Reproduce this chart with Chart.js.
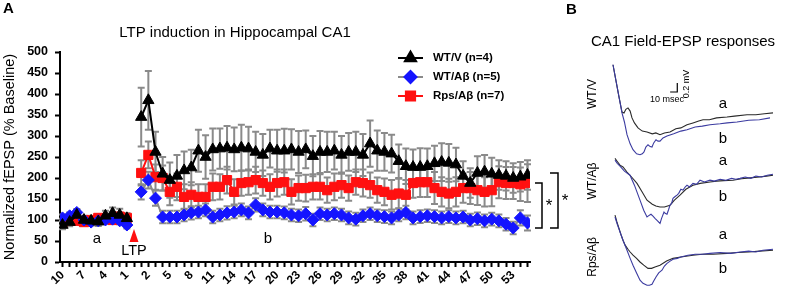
<!DOCTYPE html>
<html lang="en">
<head>
<meta charset="UTF-8">
<title>LTP induction in Hippocampal CA1</title>
<script src="https://cdn.jsdelivr.net/npm/chart.js"></script>
<style>
    body { margin: 0; width: 787px; height: 292px; background: #fff; position: relative; overflow: hidden; }
    #ltpChart { position: absolute; left: 0; top: 0; }
    #traceChart { position: absolute; left: 600px; top: 55px; }
</style>
</head>
<body>
<canvas id="ltpChart" width="787" height="292"></canvas>
<canvas id="traceChart" width="187" height="237"></canvas>

<script>
// time axis: 10 min baseline, LTP slot, 55 min after induction
const timeLabels = ['10','9','8','7','6','5','4','3','2','1','',
    '1','2','3','4','5','6','7','8','9','10','11','12','13','14','15','16','17','18','19','20',
    '21','22','23','24','25','26','27','28','29','30','31','32','33','34','35','36','37','38','39','40',
    '41','42','43','44','45','46','47','48','49','50','51','52','53','54','55'];

const seriesNames = ['WT/V (n=4)', 'WT/Aβ (n=5)', 'Rps/Aβ (n=7)'];

// % baseline
const wtV = [88, 95, 112, 100, 98, 96, 110, 116, 112, 104, null,
    345, 385, 262, 210, 195, 205, 218, 225, 265, 250,
    268, 270, 272, 268, 272, 270, 262, 255, 270, 265,
    265, 268, 262, 268, 252, 262, 262, 265, 255, 262,
    262, 255, 282, 265, 262, 258, 240, 228, 226, 226,
    228, 235, 238, 236, 232, 205, 188, 212, 215, 210,
    207, 205, 200, 203, 207];
const wtVErr = [10, 10, 12, 10, 10, 10, 12, 14, 15, 12, null,
    70, 70, 48, 40, 42, 50, 45, 42, 50, 52,
    50, 48, 52, 52, 55, 52, 48, 50, 45, 50,
    52, 48, 50, 45, 48, 50, 48, 45, 45, 45,
    48, 50, 55, 48, 45, 45, 40, 42, 42, 45,
    42, 42, 45, 45, 40, 35, 35, 40, 40, 38,
    35, 35, 35, 35, 35];

const wtAb = [105, 110, 118, 100, 95, 98, 100, 102, 98, 88, null,
    167, 195, 152, 107, 107, 107, 112, 117, 119, 124,
    107, 112, 117, 119, 124, 117, 136, 124, 119, 119,
    117, 112, 110, 115, 100, 115, 112, 115, 112, 105,
    102, 110, 115, 110, 108, 105, 112, 118, 105, 108,
    110, 108, 105, 108, 105, 107, 100, 103, 98, 102,
    98, 90, 81, 105, 93];
const wtAbErr = [8, 8, 8, 8, 8, 8, 8, 8, 8, 8, null,
    18, 20, 18, 15, 15, 15, 15, 16, 15, 15,
    15, 15, 16, 15, 15, 15, 16, 15, 15, 15,
    15, 15, 15, 16, 15, 15, 15, 15, 15, 15,
    15, 15, 15, 15, 15, 15, 15, 16, 15, 15,
    15, 15, 15, 15, 15, 15, 15, 15, 15, 15,
    15, 15, 15, 18, 18];

const rpsAb = [95, 100, 98, 95, 100, 105, 102, 100, 108, 105, null,
    212, 255, 202, 200, 167, 179, 155, 160, 155, 155,
    179, 179, 195, 167, 188, 190, 195, 188, 179, 188,
    190, 167, 176, 176, 179, 179, 171, 179, 183, 176,
    190, 188, 183, 171, 167, 160, 163, 160, 188, 190,
    190, 176, 167, 163, 167, 176, 176, 171, 167, 171,
    190, 188, 188, 185, 188];
const rpsAbErr = [8, 8, 8, 8, 8, 8, 8, 8, 10, 10, null,
    30, 32, 30, 30, 32, 32, 30, 30, 30, 30,
    32, 30, 32, 30, 30, 30, 32, 30, 30, 32,
    30, 30, 30, 32, 30, 30, 30, 32, 30, 30,
    30, 32, 30, 30, 32, 35, 35, 35, 35, 35,
    35, 38, 35, 35, 35, 35, 38, 35, 35, 38,
    38, 38, 38, 40, 45];

const yTicks = [0, 50, 100, 150, 200, 250, 300, 350, 400, 450, 500];

// field EPSP traces, [ms, mV] relative to late baseline
const traceWtV_a = [[0,1.06],[4,0.72],[8,0.38],[12.6,0.02],[15.4,0],[18,0.08],[21,0.11],[24,0.04],[26.6,-0.11],[30,-0.22],[35,-0.33],[41,-0.4],[47.6,-0.42],[55,-0.46],[60,-0.44],[65.8,-0.48],[72,-0.44],[79.8,-0.42],[88,-0.35],[95,-0.33],[103.6,-0.26],[112,-0.22],[120,-0.18],[126,-0.15],[135,-0.15],[145,-0.11],[159.6,-0.09],[170,-0.07],[187.6,-0.04],[200,-0.04],[212,-0.02],[224,0]];
const traceWtV_b = [[0,1.06],[12.6,0],[16,-0.2],[19.6,-0.48],[24,-0.68],[28,-0.81],[33,-0.9],[37.8,-0.92],[41,-0.9],[43.4,-0.86],[46,-0.75],[49,-0.7],[52,-0.74],[54.6,-0.75],[57,-0.66],[60.2,-0.59],[63,-0.62],[65.8,-0.62],[70,-0.55],[75.6,-0.51],[85,-0.46],[95,-0.4],[103.6,-0.37],[115,-0.31],[125,-0.29],[135.8,-0.26],[150,-0.24],[160,-0.22],[173.6,-0.2],[190,-0.16],[205,-0.15],[219.8,-0.11]];
const traceWtAb_a = [[2.8,0.37],[6,0.3],[9.8,0.22],[14,0.18],[19.6,0.07],[26,-0.04],[33.6,-0.18],[40,-0.35],[47.6,-0.55],[55,-0.64],[60,-0.68],[65.8,-0.7],[72,-0.7],[79.8,-0.66],[86,-0.55],[93.8,-0.44],[102,-0.31],[112,-0.22],[122,-0.18],[135.8,-0.15],[145,-0.13],[155,-0.12],[168,-0.11],[180,-0.08],[192,-0.06],[205,-0.04],[215,-0.02],[224,0]];
const traceWtAb_b = [[2.8,0.33],[6,0.26],[9.8,0.2],[16,0.09],[23.8,0],[30,-0.22],[37.8,-0.55],[43,-0.77],[47.6,-0.92],[51,-0.88],[53.2,-0.86],[56,-0.9],[58.8,-0.95],[62,-1.0],[65.8,-1.06],[68,-0.95],[71.4,-0.81],[73,-0.84],[75.6,-0.86],[78,-0.75],[79.8,-0.66],[82,-0.62],[84,-0.51],[87,-0.47],[89.6,-0.44],[92,-0.4],[95,-0.31],[98,-0.33],[101,-0.26],[103.6,-0.22],[107,-0.26],[112,-0.18],[117,-0.2],[121.8,-0.11],[128,-0.15],[135.8,-0.11],[142,-0.13],[150,-0.09],[158,-0.11],[166,-0.07],[172,-0.09],[177.8,-0.07],[185,-0.04],[193,-0.07],[200,-0.02],[208,-0.04],[216,0],[224,0.02]];
const traceRps_a = [[2.8,0.77],[5.5,0.62],[8.4,0.48],[11,0.35],[14,0.22],[17,0.11],[21,0.02],[24,-0.04],[28,-0.11],[33,-0.18],[37.8,-0.26],[43,-0.33],[49,-0.4],[54,-0.4],[58.8,-0.37],[65.8,-0.33],[75,-0.24],[84,-0.18],[95,-0.15],[112,-0.11],[125,-0.09],[140,-0.09],[159.6,-0.07],[175,-0.05],[190,-0.04],[205,-0.02],[224,0]];
const traceRps_b = [[2.8,0.73],[6,0.57],[9.8,0.4],[14,0.22],[19.6,0],[24,-0.18],[28,-0.33],[33,-0.5],[37.8,-0.66],[42,-0.73],[47.6,-0.77],[51,-0.77],[54.6,-0.75],[57,-0.68],[60.2,-0.59],[64,-0.5],[68.6,-0.44],[72,-0.35],[75.6,-0.29],[80,-0.24],[84,-0.2],[90,-0.18],[95,-0.15],[105,-0.11],[115,-0.09],[125,-0.09],[135.8,-0.07],[150,-0.05],[165,-0.07],[177.8,-0.04],[190,-0.02],[200,-0.04],[210,0],[224,0.02]];

const FONT = '"Liberation Sans", Arial, sans-serif';
const BLACK = '#000000', BLUE = '#1414ff', RED = '#ff1010', GREY = '#8a8a8a';

function toPoints(values) {
    return values.map((v, i) => ({ x: i, y: v }));
}

// grey SEM bars, drawn under the markers
const errorBars = {
    id: 'errorBars',
    beforeDatasetsDraw(chart) {
        const { ctx, scales: { x, y } } = chart;
        ctx.save();
        ctx.strokeStyle = GREY;
        ctx.lineWidth = 2;
        chart.data.datasets.forEach(ds => {
            ds.data.forEach((pt, i) => {
                if (pt.y == null) return;
                const e = ds.errors[i];
                const px = x.getPixelForValue(pt.x);
                const top = y.getPixelForValue(pt.y + e);
                const bot = y.getPixelForValue(pt.y - e);
                ctx.beginPath();
                ctx.moveTo(px, top); ctx.lineTo(px, bot);
                ctx.moveTo(px - 3.5, top); ctx.lineTo(px + 3.5, top);
                ctx.moveTo(px - 3.5, bot); ctx.lineTo(px + 3.5, bot);
                ctx.stroke();
            });
        });
        ctx.restore();
    }
};

function text(ctx, str, x, y, size, opts = {}) {
    ctx.save();
    ctx.font = (opts.bold ? 'bold ' : '') + size + 'px ' + FONT;
    ctx.fillStyle = opts.color || BLACK;
    ctx.textAlign = opts.align || 'center';
    ctx.textBaseline = opts.baseline || 'middle';
    ctx.translate(x, y);
    if (opts.rotate) ctx.rotate(opts.rotate);
    ctx.fillText(str, 0, 0);
    ctx.restore();
}

// titles, legend and the other labels of the figure
const figureText = {
    id: 'figureText',
    afterDraw(chart) {
        const ctx = chart.ctx;
        text(ctx, 'A', 3, 9, 15, { bold: true, align: 'left' });
        text(ctx, 'B', 566, 10, 15, { bold: true, align: 'left' });
        text(ctx, 'LTP induction in Hippocampal CA1', 235, 33, 15);
        text(ctx, 'CA1 Field-EPSP responses', 683, 42, 15);

        // legend: line + marker + label
        const legendY = [58, 77, 96];
        chart.data.datasets.forEach((ds, i) => {
            const ly = legendY[i];
            ctx.save();
            ctx.strokeStyle = ds.borderColor;
            ctx.lineWidth = 2;
            ctx.beginPath(); ctx.moveTo(398, ly); ctx.lineTo(423, ly); ctx.stroke();
            ctx.fillStyle = ds.pointBackgroundColor;
            ctx.strokeStyle = ds.pointBackgroundColor;
            Chart.helpers.drawPoint(ctx, { pointStyle: ds.pointStyle, radius: ds.pointRadius, rotation: 0, borderWidth: 1 }, 410.5, ly);
            ctx.restore();
            text(ctx, seriesNames[i], 433, ly, 11.5, { bold: true, align: 'left' });
        });

        text(ctx, 'a', 97, 239, 15);
        text(ctx, 'b', 268, 239, 15);
        text(ctx, 'LTP', 134, 251, 14.5);
        ctx.save();
        ctx.fillStyle = RED;
        ctx.beginPath();
        ctx.moveTo(134, 229); ctx.lineTo(138.5, 242); ctx.lineTo(129.5, 242);
        ctx.closePath(); ctx.fill();

        // significance brackets
        ctx.strokeStyle = BLACK;
        ctx.lineWidth = 1.5;
        ctx.beginPath();
        ctx.moveTo(535, 183); ctx.lineTo(542, 183); ctx.lineTo(542, 228); ctx.lineTo(535, 228);
        ctx.moveTo(550, 173); ctx.lineTo(558, 173); ctx.lineTo(558, 228); ctx.lineTo(550, 228);
        ctx.stroke();
        ctx.restore();
        text(ctx, '*', 549, 211, 17, { baseline: 'alphabetic' });
        text(ctx, '*', 565, 206, 17, { baseline: 'alphabetic' });

        // panel B labels
        text(ctx, 'WT/V', 593, 94, 12, { rotate: -Math.PI / 2 });
        text(ctx, 'WT/Aβ', 593, 181, 12, { rotate: -Math.PI / 2 });
        text(ctx, 'Rps/Aβ', 593, 257, 12, { rotate: -Math.PI / 2 });
        text(ctx, 'a', 723, 104, 15); text(ctx, 'b', 723, 139, 15);
        text(ctx, 'a', 723, 161, 15); text(ctx, 'b', 723, 197, 15);
        text(ctx, 'a', 723, 235, 15); text(ctx, 'b', 723, 269, 15);
        text(ctx, '10 msec', 667, 100, 9);
        text(ctx, '0.2 mV', 687, 84, 9, { rotate: -Math.PI / 2 });
    }
};

new Chart(document.getElementById('ltpChart'), {
    type: 'line',
    data: {
        datasets: [
            {
                label: seriesNames[0], data: toPoints(wtV), errors: wtVErr,
                borderColor: BLACK, borderWidth: 2, pointStyle: 'triangle', pointRadius: 6.5,
                pointBackgroundColor: BLACK, pointBorderColor: BLACK, pointBorderWidth: 1
            },
            {
                label: seriesNames[1], data: toPoints(wtAb), errors: wtAbErr,
                borderColor: GREY, borderWidth: 2, pointStyle: 'rectRot', pointRadius: 6,
                pointBackgroundColor: BLUE, pointBorderColor: BLUE, pointBorderWidth: 1
            },
            {
                label: seriesNames[2], data: toPoints(rpsAb), errors: rpsAbErr,
                borderColor: RED, borderWidth: 2, pointStyle: 'rect', pointRadius: 6.5,
                pointBackgroundColor: RED, pointBorderColor: RED, pointBorderWidth: 1
            }
        ]
    },
    options: {
        responsive: false,
        animation: false,
        devicePixelRatio: 1,
        spanGaps: false,
        layout: { padding: { top: 52, right: 257, bottom: 0, left: 0 } },
        plugins: { legend: { display: false }, tooltip: { enabled: false } },
        scales: {
            x: {
                type: 'linear',
                min: -0.35,
                max: timeLabels.length - 0.65,
                afterBuildTicks: axis => { axis.ticks = timeLabels.map((_, i) => ({ value: i })); },
                afterFit: axis => { axis.height = 30; },
                border: { display: true, color: BLACK, width: 2 },
                grid: { drawOnChartArea: false, drawTicks: true, tickLength: 5, tickColor: BLACK, tickWidth: 2 },
                ticks: {
                    autoSkip: false, minRotation: 45, maxRotation: 45, padding: 1,
                    color: BLACK, font: { family: FONT, size: 12, weight: 'bold' },
                    callback: (v) => (v % 3 === 0 ? timeLabels[v] : '')
                }
            },
            y: {
                min: 0,
                max: 500,
                afterBuildTicks: axis => { axis.ticks = yTicks.map(v => ({ value: v })); },
                afterFit: axis => { axis.width = 60; },
                border: { display: true, color: BLACK, width: 2 },
                grid: { drawOnChartArea: false, drawTicks: true, tickLength: 5, tickColor: BLACK, tickWidth: 2 },
                ticks: { padding: 7, color: BLACK, font: { family: FONT, size: 12.5, weight: 'bold' } },
                title: {
                    display: true, text: 'Normalized fEPSP (% Baseline)', color: BLACK,
                    padding: { top: 1, bottom: 0 }, font: { family: FONT, size: 14.5 }
                }
            }
        }
    },
    plugins: [errorBars, figureText]
});

// panel B: vertical position of each trace pair (mV on the trace axis)
const rowOffsets = [3.94, 2.57, 0.92];
const TRACE_BLACK = '#2a2a2a', TRACE_BLUE = '#3b3ba0';

function traceData(pairs, offset) {
    return pairs.map(([t, v]) => ({ x: t, y: v + offset }));
}

const scaleBar = {
    id: 'scaleBar',
    afterDraw(chart) {
        const { ctx, scales: { x, y } } = chart;
        ctx.save();
        ctx.strokeStyle = BLACK;
        ctx.lineWidth = 1.2;
        ctx.beginPath();
        ctx.moveTo(x.getPixelForValue(80), y.getPixelForValue(4.4));
        ctx.lineTo(x.getPixelForValue(90), y.getPixelForValue(4.4));
        ctx.lineTo(x.getPixelForValue(90), y.getPixelForValue(4.6));
        ctx.stroke();
        ctx.restore();
    }
};

const traceSets = [
    [traceWtV_a, traceWtV_b],
    [traceWtAb_a, traceWtAb_b],
    [traceRps_a, traceRps_b]
];

new Chart(document.getElementById('traceChart'), {
    type: 'scatter',
    data: {
        datasets: traceSets.flatMap((pair, r) => [
            { data: traceData(pair[1], rowOffsets[r]), showLine: true, borderColor: TRACE_BLUE, borderWidth: 1.1, pointRadius: 0 },
            { data: traceData(pair[0], rowOffsets[r]), showLine: true, borderColor: TRACE_BLACK, borderWidth: 1.1, pointRadius: 0 }
        ])
    },
    options: {
        responsive: false,
        animation: false,
        devicePixelRatio: 1,
        layout: { padding: 0 },
        plugins: { legend: { display: false }, tooltip: { enabled: false } },
        scales: {
            x: { type: 'linear', display: false, min: -18.2, max: 243.6 },
            y: { type: 'linear', display: false, min: 0, max: 5.214 }
        }
    },
    plugins: [scaleBar]
});
</script>
</body>
</html>
